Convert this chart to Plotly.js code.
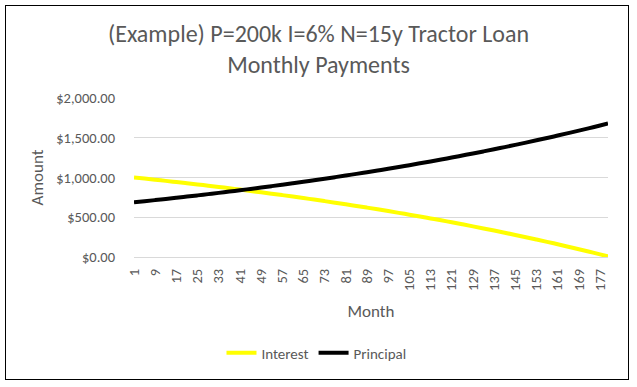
<!DOCTYPE html>
<html><head><meta charset="utf-8">
<script src="https://cdn.plot.ly/plotly-3.0.1.min.js"></script>
<style>
html,body{margin:0;padding:0;background:#fff;}
#wrap{position:relative;width:637px;height:387px;}
#chart{width:637px;height:387px;}
#frame{position:absolute;left:5px;top:5px;width:622px;height:373px;border:1px solid #000;pointer-events:none;}
</style></head>
<body><div id="wrap"><div id="chart"></div><div id="frame"></div></div>
<script>
// Months (every 4th month, plus the last)
const months = [1,5,9,13,17,21,25,29,33,37,41,45,49,53,57,61,65,69,73,77,81,85,89,93,97,101,105,109,113,117,121,125,129,133,137,141,145,149,153,157,161,165,169,173,177,180];
const interest = [1000.00,986.14,972.00,957.58,942.87,927.86,912.55,896.93,881.00,864.74,848.16,831.24,813.98,796.38,778.41,760.09,741.40,722.33,702.88,683.03,662.79,642.14,621.07,599.57,577.65,555.28,532.46,509.18,485.43,461.21,436.49,411.28,385.56,359.32,332.55,305.25,277.39,248.97,219.98,190.40,160.23,129.45,98.05,66.02,33.34,8.40];
const principal = [687.71,701.57,715.71,730.13,744.84,759.85,775.16,790.78,806.71,822.97,839.55,856.47,873.73,891.33,909.30,927.62,946.31,965.38,984.83,1004.68,1024.92,1045.57,1066.64,1088.14,1110.06,1132.43,1155.25,1178.53,1202.28,1226.50,1251.22,1276.43,1302.15,1328.39,1355.16,1382.46,1410.32,1438.74,1467.73,1497.31,1527.48,1558.26,1589.66,1621.69,1654.37,1679.31];
const seriesNames = ["Interest","Principal"];
const titleText = "(Example) P=200k I=6% N=15y Tractor Loan<br>Monthly Payments";

const FONT = "Carlito, Calibri, Lato, 'Open Sans', sans-serif";
const GREY = "#595959";

const traces = [
  {x: months, y: interest, name: seriesNames[0], type: "scatter", mode: "lines",
   line: {color: "#FFFF00", width: 4, shape: "spline"}},
  {x: months, y: principal, name: seriesNames[1], type: "scatter", mode: "lines",
   line: {color: "#000000", width: 4, shape: "spline"}}
];

const layout = {
  width: 637, height: 387,
  margin: {l: 134, r: 29, t: 98, b: 130},
  paper_bgcolor: "#fff", plot_bgcolor: "#fff",
  font: {family: FONT, color: GREY, size: 14.5},
  title: {text: titleText, x: 0.5, xanchor: "center", y: 0.891, yanchor: "middle",
          font: {family: FONT, size: 24, color: GREY}},
  xaxis: {
    range: [1, 180], tickmode: "linear", tick0: 1, dtick: 8, tickangle: -90,
    showgrid: false, zeroline: false, showline: false, ticks: "",
    ticklabelstandoff: 8,
    tickfont: {family: FONT, size: 14.5, color: GREY},
    title: {text: "Month", font: {family: FONT, size: 17, color: GREY}, standoff: 15},
    automargin: false
  },
  yaxis: {
    range: [0, 2000], tickmode: "linear", tick0: 0, dtick: 500,
    tickformat: "$,.2f", showgrid: true, gridcolor: "#D9D9D9", gridwidth: 1,
    zeroline: true, zerolinecolor: "#D9D9D9", zerolinewidth: 1, showline: false, ticks: "",
    ticklabelstandoff: 18,
    tickfont: {family: FONT, size: 14.5, color: GREY},
    title: {text: "Amount", font: {family: FONT, size: 17, color: GREY}, standoff: 8},
    automargin: false
  },
  showlegend: true,
  legend: {orientation: "h", x: 0.385, xanchor: "center", y: -0.604, yanchor: "middle",
           font: {family: FONT, size: 15, color: GREY}, itemwidth: 30, tracegroupgap: 0}
};

Plotly.newPlot("chart", traces, layout, {displayModeBar: false, staticPlot: true});
</script></body></html>
